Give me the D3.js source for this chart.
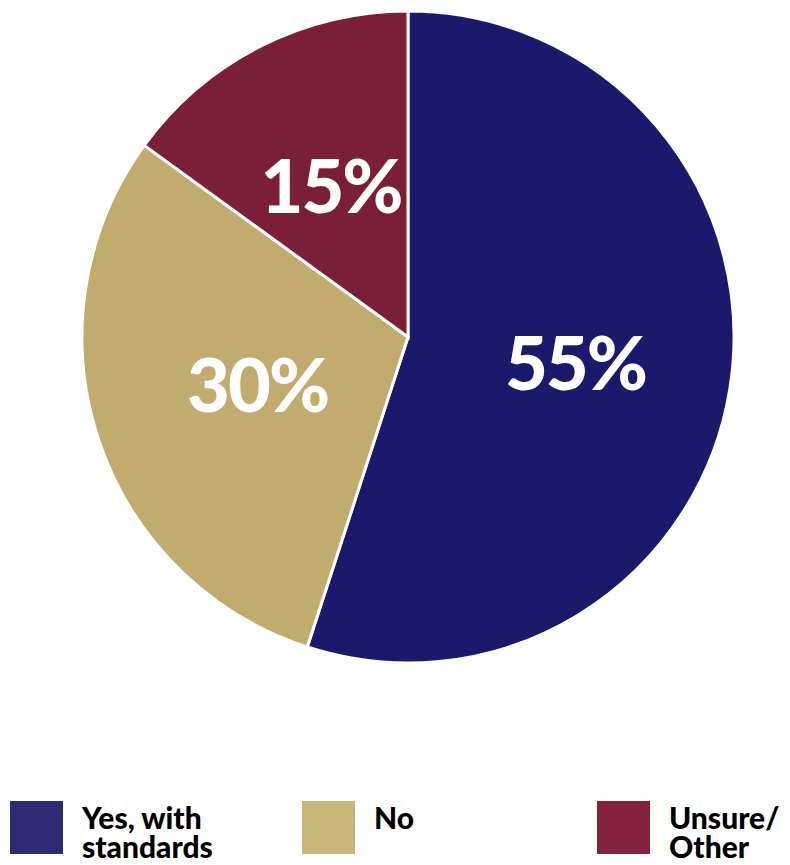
<!DOCTYPE html>
<html>
<head>
<meta charset="utf-8">
<script src="https://cdn.jsdelivr.net/npm/d3@7"></script>
<style>
  html, body { margin: 0; padding: 0; background: #fff; }
  svg { display: block; }
  text { font-family: Lato, "Open Sans", sans-serif; }
</style>
</head>
<body>
<svg id="chart" width="790" height="865"></svg>
<script>
// Survey response shares
const categories = ["Yes, with standards", "No", "Unsure/ Other"];
const values = [55, 30, 15];
const sliceColors = ["#1b196c", "#c2ab6e", "#7a1f37"];
const legendColors = ["#2e2a73", "#c9b67a", "#83223f"];
const legendLines = [["Yes, with", "standards"], ["No"], ["Unsure/", "Other"]];

const svg = d3.select("#chart");
const cx = 408, cy = 337, radius = 326;

const pie = d3.pie().sort(null).value(d => d)(values);
const arc = d3.arc().innerRadius(0).outerRadius(radius);

const g = svg.append("g").attr("transform", `translate(${cx},${cy})`);

g.selectAll("path")
  .data(pie)
  .join("path")
  .attr("d", arc)
  .attr("fill", (d, i) => sliceColors[i])
  .attr("stroke", "#fff")
  .attr("stroke-width", 3);

// Percentage labels placed along each slice's bisector
const labelRadius = [0.52, 0.485, 0.52];
g.selectAll("text.pct")
  .data(pie)
  .join("text")
  .attr("class", "pct")
  .attr("transform", (d, i) => {
    const a = (d.startAngle + d.endAngle) / 2;
    const r = radius * labelRadius[i];
    return `translate(${r * Math.sin(a)},${-r * Math.cos(a)})`;
  })
  .attr("text-anchor", "middle")
  .attr("dy", "0.36em")
  .attr("fill", "#fff")
  .attr("font-size", 74)
  .attr("font-weight", 900)
  .attr("letter-spacing", -2)
  .text(d => d.data + "%");

// Legend
const legendX = d3.scaleOrdinal().domain(categories).range([10, 302, 597]);
const legend = svg.append("g");
const items = legend.selectAll("g")
  .data(categories)
  .join("g")
  .attr("transform", d => `translate(${legendX(d)},801)`);

items.append("rect")
  .attr("width", 53)
  .attr("height", 53)
  .attr("fill", (d, i) => legendColors[i]);

items.append("text")
  .attr("x", 72)
  .attr("y", 28)
  .attr("font-size", 30)
  .attr("font-weight", 900)
  .attr("fill", "#000")
  .selectAll("tspan")
  .data((d, i) => legendLines[i])
  .join("tspan")
  .attr("x", 72)
  .attr("dy", (d, j) => j === 0 ? 0 : 29)
  .text(d => d);
</script>
</body>
</html>
